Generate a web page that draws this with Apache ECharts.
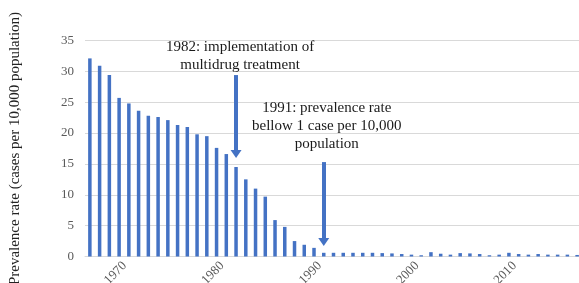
<!DOCTYPE html>
<html>
<head>
<meta charset="utf-8">
<script src="https://cdn.jsdelivr.net/npm/echarts@6/dist/echarts.min.js"></script>
<style>
  html, body { margin: 0; padding: 0; background: #fff; }
  #chart { width: 579px; height: 283px; }
</style>
</head>
<body>
<div id="chart"></div>
<script>
// years and prevalence values
var years = ['1967','1968','1969','1970','1971','1972','1973','1974','1975','1976',
  '1977','1978','1979','1980','1981','1982','1983','1984','1985','1986',
  '1987','1988','1989','1990','1991','1992','1993','1994','1995','1996',
  '1997','1998','1999','2000','2001','2002','2003','2004','2005','2006',
  '2007','2008','2009','2010','2011','2012','2013','2014','2015','2016','2017'];
var prevalence = [32.1, 30.9, 29.4, 25.7, 24.8, 23.6, 22.8, 22.6, 22.1, 21.3,
  21.0, 19.8, 19.5, 17.6, 16.6, 14.5, 12.5, 11.0, 9.7, 5.9,
  4.8, 2.5, 1.9, 1.4, 0.6, 0.6, 0.6, 0.6, 0.6, 0.6,
  0.55, 0.5, 0.4, 0.3, 0.2, 0.7, 0.45, 0.3, 0.55, 0.5,
  0.4, 0.2, 0.3, 0.6, 0.4, 0.3, 0.4, 0.3, 0.3, 0.3, 0.25];
var yTicks = [0, 5, 10, 15, 20, 25, 30, 35];

// annotations: year, text, text height, arrow start and end values
var note1 = { year: '1982', text: '1982: implementation of\nmultidrug treatment', textY: 32.4, from: 29.4, to: 16.6 };
var note2 = { year: '1991', text: '1991: prevalence rate\nbellow 1 case per 10,000\npopulation', textY: 21.1, from: 15.3, to: 2.35 };

var serif = 'Liberation Serif';
var myChart = echarts.init(document.getElementById('chart'));

option = {
  animation: false,
  grid: { left: 85, top: 40.5, width: 497, bottom: 26.5, outerBoundsMode: 'none', containLabel: false },
  xAxis: {
    type: 'category',
    data: years,
    axisLine: { lineStyle: { color: '#d9d9d9' } },
    axisTick: { show: false },
    axisLabel: {
      rotate: 45,
      margin: 13,
      padding: [0, -8, 0, 0],
      interval: function (i, v) { return Number(v) % 10 === 0; },
      fontFamily: serif, fontSize: 13, color: '#595959'
    }
  },
  yAxis: {
    type: 'value',
    min: yTicks[0],
    max: yTicks[yTicks.length - 1],
    interval: 5,
    name: 'Prevalence rate (cases per 10,000 population)',
    nameLocation: 'middle',
    nameGap: 62,
    nameTextStyle: { fontFamily: serif, fontSize: 15, color: '#222' },
    axisLabel: { margin: 11, fontFamily: serif, fontSize: 13, color: '#595959' },
    splitLine: { lineStyle: { color: '#d9d9d9' } }
  },
  series: [
    {
      type: 'bar',
      data: prevalence,
      barWidth: 3.5,
      itemStyle: { color: '#4472C4' },
      markPoint: {
        silent: true,
        symbolSize: 0,
        label: {
          show: true, position: 'inside',
          fontFamily: serif, fontSize: 15, lineHeight: 18, color: '#1a1a1a'
        },
        data: [
          { coord: [note1.year, note1.textY], label: { formatter: note1.text, offset: [4, 0] } },
          { coord: [note2.year, note2.textY], label: { formatter: note2.text, offset: [3, 0] } }
        ]
      },
      markLine: {
        silent: true,
        symbol: ['none', 'triangle'],
        symbolSize: [11, 8],
        label: { show: false },
        lineStyle: { color: '#4472C4', width: 4, type: 'solid' },
        data: [
          [{ coord: [note1.year, note1.from] }, { coord: [note1.year, note1.to] }],
          [{ coord: [note2.year, note2.from] }, { coord: [note2.year, note2.to] }]
        ]
      }
    }
  ]
};

myChart.setOption(option);
</script>
</body>
</html>
